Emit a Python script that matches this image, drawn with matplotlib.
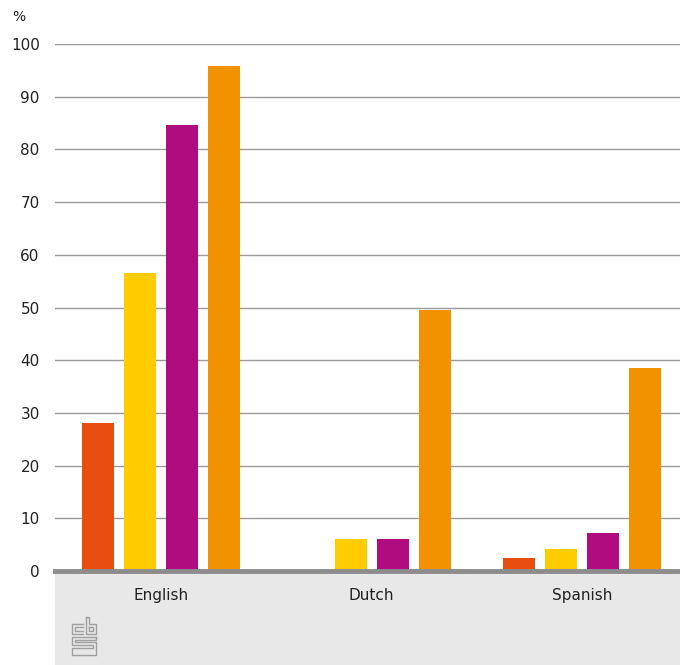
import numpy as np
import matplotlib.pyplot as plt
from matplotlib.patches import Rectangle

languages = ['English', 'Dutch', 'Spanish']
series_a = [28, 0, 2.5]
series_b = [56.6, 6.1, 4.2]
series_c = [84.7, 6.1, 7.3]
series_d = [95.9, 49.6, 38.6]
colors = ['#e84e0f', '#ffcc00', '#af0c80', '#f39200']

fig = plt.figure(figsize=(6.8, 6.65), dpi=100)

# grey band under the axis
fig.patches.append(Rectangle((55 / 680, 0), 625 / 680, 94 / 665,
                             transform=fig.transFigure, color='#e8e8e8', zorder=-5))

ax = fig.add_axes([55 / 680, 94 / 665, 625 / 680, 527 / 665])
ax.patch.set_alpha(0)
x = np.arange(len(languages))
width = 0.152
step = 0.2
for i, vals in enumerate([series_a, series_b, series_c, series_d]):
    ax.bar(x + (i - 1.5) * step + 0.005, vals, width, color=colors[i], zorder=3)

ax.set_ylim(0, 100)
ax.set_xlim(-0.5, 2.47)
ax.set_yticks(range(0, 101, 10))
ax.set_xticks(x + 0.005)
ax.set_xticklabels(languages)
ax.yaxis.grid(True, color='#999999', linewidth=1)
ax.set_axisbelow(True)
for s in ['top', 'right', 'left']:
    ax.spines[s].set_visible(False)
ax.spines['bottom'].set_color('#8c8c8c')
ax.spines['bottom'].set_linewidth(3.5)
ax.spines['bottom'].set_zorder(4)
ax.tick_params(axis='both', length=0, labelsize=11, colors='#222222')
ax.tick_params(axis='x', pad=12)
ax.tick_params(axis='y', pad=11)
fig.text(12 / 680, 1 - 17 / 665, '%', fontsize=10, color='#222222', va='center')

# simple cbs logo outline
lc = '#a0a0a0'
def px(xp, yp):
    return xp / 680, 1 - yp / 665
logo = [
    [(83, 624), (72, 624), (72, 634), (83, 634)],
    [(83, 627), (75, 627), (75, 631), (83, 631)],
    [(86, 617), (86, 634), (96, 634), (96, 624), (89, 624), (89, 617), (86, 617)],
    [(89, 627), (93, 627), (93, 631), (89, 631), (89, 627)],
    [(96, 637), (72, 637), (72, 645), (93, 645), (93, 648), (72, 648), (72, 655), (96, 655),
     (96, 642), (75, 642), (75, 640), (96, 640), (96, 637)],
]
for path in logo:
    xs, ys = zip(*[px(a, b) for a, b in path])
    fig.add_artist(plt.Line2D(xs, ys, color=lc, linewidth=1))

fig.savefig('out.png', dpi=100)
